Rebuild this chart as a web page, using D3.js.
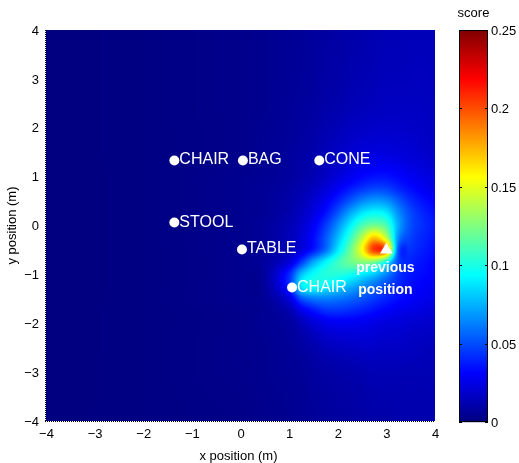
<!DOCTYPE html>
<html>
<head>
<meta charset="utf-8">
<script src="https://cdn.jsdelivr.net/npm/d3@7"></script>
<style>
  html, body { margin: 0; padding: 0; background: #fff; }
  #wrap { position: relative; width: 519px; height: 463px; }
  #heat { position: absolute; left: 46px; top: 30px; }
  svg { position: absolute; left: 0; top: 0; display: block; }
  text { font-family: "Liberation Sans", Arial, sans-serif; }
</style>
</head>
<body>
<div id="wrap">
<canvas id="heat" width="389" height="391"></canvas>
<svg id="chart" width="519" height="463"></svg>
</div>
<script>
// ---------------- data ----------------
const xGrid = [-4, -2, 0, 0.5, 1, 1.25, 1.5, 1.75, 2, 2.25, 2.5, 2.75, 3, 3.25, 3.5, 3.75, 4];
const yGrid = [4, 2.5, 1.5, 1, 0.75, 0.5, 0.25, 0, -0.25, -0.5, -0.75, -1, -1.25, -1.5, -1.75, -2, -2.5, -3, -4];
// score values: one row per yGrid entry (top to bottom), one column per xGrid entry
const scores = [
  [0.000, 0.001, 0.003, 0.004, 0.005, 0.006, 0.007, 0.008, 0.009, 0.010, 0.011, 0.012, 0.013, 0.013, 0.014, 0.014, 0.014],
  [0.000, 0.001, 0.003, 0.004, 0.006, 0.007, 0.008, 0.010, 0.011, 0.013, 0.014, 0.015, 0.016, 0.016, 0.016, 0.016, 0.015],
  [0.000, 0.001, 0.003, 0.005, 0.007, 0.009, 0.011, 0.014, 0.017, 0.020, 0.022, 0.023, 0.023, 0.022, 0.021, 0.019, 0.017],
  [0.000, 0.001, 0.004, 0.005, 0.008, 0.010, 0.013, 0.017, 0.022, 0.027, 0.032, 0.035, 0.035, 0.032, 0.028, 0.025, 0.022],
  [0.000, 0.001, 0.004, 0.006, 0.009, 0.012, 0.016, 0.022, 0.029, 0.037, 0.044, 0.048, 0.047, 0.040, 0.034, 0.029, 0.025],
  [0.000, 0.001, 0.004, 0.006, 0.010, 0.014, 0.020, 0.028, 0.039, 0.052, 0.064, 0.070, 0.067, 0.054, 0.042, 0.035, 0.030],
  [0.000, 0.001, 0.004, 0.006, 0.011, 0.016, 0.024, 0.035, 0.052, 0.072, 0.088, 0.095, 0.090, 0.066, 0.049, 0.040, 0.034],
  [0.000, 0.001, 0.004, 0.007, 0.013, 0.019, 0.029, 0.045, 0.066, 0.090, 0.112, 0.122, 0.112, 0.072, 0.050, 0.042, 0.036],
  [0.000, 0.001, 0.004, 0.007, 0.014, 0.021, 0.033, 0.052, 0.077, 0.105, 0.138, 0.170, 0.140, 0.065, 0.047, 0.040, 0.035],
  [0.000, 0.001, 0.004, 0.007, 0.015, 0.023, 0.037, 0.058, 0.088, 0.118, 0.155, 0.205, 0.190, 0.052, 0.043, 0.038, 0.033],
  [0.000, 0.001, 0.004, 0.008, 0.022, 0.045, 0.072, 0.092, 0.108, 0.120, 0.126, 0.122, 0.095, 0.048, 0.039, 0.035, 0.031],
  [0.000, 0.001, 0.004, 0.008, 0.040, 0.078, 0.095, 0.102, 0.102, 0.098, 0.090, 0.080, 0.064, 0.044, 0.036, 0.033, 0.029],
  [0.000, 0.001, 0.004, 0.007, 0.040, 0.088, 0.095, 0.090, 0.084, 0.075, 0.066, 0.057, 0.047, 0.039, 0.033, 0.030, 0.027],
  [0.000, 0.001, 0.004, 0.006, 0.022, 0.050, 0.060, 0.062, 0.060, 0.056, 0.051, 0.045, 0.039, 0.034, 0.030, 0.027, 0.025],
  [0.000, 0.001, 0.003, 0.005, 0.012, 0.025, 0.035, 0.042, 0.043, 0.041, 0.038, 0.034, 0.030, 0.027, 0.025, 0.023, 0.021],
  [0.000, 0.001, 0.003, 0.005, 0.008, 0.014, 0.021, 0.026, 0.028, 0.028, 0.027, 0.025, 0.023, 0.022, 0.020, 0.019, 0.018],
  [0.000, 0.001, 0.003, 0.004, 0.006, 0.008, 0.011, 0.014, 0.016, 0.017, 0.018, 0.018, 0.017, 0.017, 0.016, 0.015, 0.014],
  [0.000, 0.001, 0.003, 0.004, 0.005, 0.006, 0.008, 0.009, 0.010, 0.011, 0.012, 0.013, 0.013, 0.013, 0.013, 0.013, 0.013],
  [0.000, 0.001, 0.002, 0.003, 0.004, 0.005, 0.006, 0.007, 0.008, 0.008, 0.009, 0.010, 0.010, 0.011, 0.011, 0.011, 0.011]
];
const objectNames = ["CHAIR", "BAG", "CONE", "STOOL", "TABLE", "CHAIR"];
const objectX = [-1.36, 0.05, 1.62, -1.36, 0.03, 1.06];
const objectY = [1.33, 1.33, 1.33, 0.06, -0.49, -1.27];
const previousX = [3.0];
const previousY = [-0.5];
const previousLabel = ["previous", "position"];
const xTicks = [-4, -3, -2, -1, 0, 1, 2, 3, 4];
const yTicks = [-4, -3, -2, -1, 0, 1, 2, 3, 4];
const colorTicks = [0, 0.05, 0.1, 0.15, 0.2, 0.25];
const colorDomain = [0, 0.25];
const xLabel = "x position (m)";
const yLabel = "y position (m)";
const colorLabel = "score";

// ---------------- layout ----------------
const plot = { left: 46, top: 30, width: 389, height: 391 };
const cbar = { left: 459, top: 30, width: 29, height: 392 };

const svg = d3.select("#chart");
const x = d3.scaleLinear().domain([-4, 4]).range([plot.left, plot.left + plot.width]);
const y = d3.scaleLinear().domain([-4, 4]).range([plot.top + plot.height, plot.top]);

function jet(t) {
  t = Math.max(0, Math.min(1, t));
  const c = v => Math.round(255 * Math.max(0, Math.min(1, v)));
  return d3.rgb(c(1.5 - Math.abs(4 * t - 3)), c(1.5 - Math.abs(4 * t - 2)), c(1.5 - Math.abs(4 * t - 1)));
}
const color = d3.scaleSequential(jet).domain(colorDomain);

// smooth (cubic Hermite) rendering of the grid
function slopes(xs, vs) {
  const n = xs.length;
  return vs.map((v, k) => {
    if (k === 0) return (vs[1] - vs[0]) / (xs[1] - xs[0]);
    if (k === n - 1) return (vs[n - 1] - vs[n - 2]) / (xs[n - 1] - xs[n - 2]);
    return (vs[k + 1] - vs[k - 1]) / (xs[k + 1] - xs[k - 1]);
  });
}
function hermite(xs, vs, ms, t) {
  let i = d3.bisectRight(xs, t) - 1;
  i = Math.max(0, Math.min(xs.length - 2, i));
  const h = xs[i + 1] - xs[i];
  const s = Math.max(0, Math.min(1, (t - xs[i]) / h));
  const s2 = s * s, s3 = s2 * s;
  return (2 * s3 - 3 * s2 + 1) * vs[i] + (s3 - 2 * s2 + s) * h * ms[i] +
         (-2 * s3 + 3 * s2) * vs[i + 1] + (s3 - s2) * h * ms[i + 1];
}
const yAsc = yGrid.slice().reverse();
const rowsAsc = scores.slice().reverse();
const rowSlopes = rowsAsc.map(r => slopes(xGrid, r));

// ---------------- heatmap ----------------
const canvas = document.getElementById("heat");
const ctx = canvas.getContext("2d");
const img = ctx.createImageData(plot.width, plot.height);
for (let k = 0; k < plot.width; k++) {
  const xv = x.invert(plot.left + k + 0.5);
  const colVals = rowsAsc.map((r, j) => hermite(xGrid, r, rowSlopes[j], xv));
  const colSl = slopes(yAsc, colVals);
  for (let r = 0; r < plot.height; r++) {
    const yv = y.invert(plot.top + r + 0.5);
    const v = Math.max(0, hermite(yAsc, colVals, colSl, yv));
    const col = color(v);
    const o = 4 * (r * plot.width + k);
    img.data[o] = col.r; img.data[o + 1] = col.g; img.data[o + 2] = col.b; img.data[o + 3] = 255;
  }
}
ctx.putImageData(img, 0, 0);

// axes edges (dotted, like the reference)
svg.append("line").attr("x1", plot.left - 0.5).attr("x2", plot.left - 0.5)
  .attr("y1", plot.top).attr("y2", plot.top + plot.height + 1)
  .attr("stroke", "#000").attr("stroke-width", 1).attr("stroke-dasharray", "1,1");
svg.append("line").attr("x1", plot.left - 1).attr("x2", plot.left + plot.width)
  .attr("y1", plot.top + plot.height + 0.5).attr("y2", plot.top + plot.height + 0.5)
  .attr("stroke", "#000").attr("stroke-width", 1).attr("stroke-dasharray", "1,1");

// tick labels
const tickFont = 13;
svg.append("g").attr("transform", `translate(0,${plot.top + plot.height + 5})`)
  .call(d3.axisBottom(x).tickValues(xTicks).tickSize(0).tickFormat(d3.format("d")))
  .call(g => g.select(".domain").remove())
  .call(g => g.selectAll("text").attr("font-size", tickFont).attr("fill", "#000")
    .attr("font-family", "Liberation Sans, Arial, sans-serif"));
svg.append("g").attr("transform", `translate(${plot.left - 4},0)`)
  .call(d3.axisLeft(y).tickValues(yTicks).tickSize(0).tickFormat(d3.format("d")))
  .call(g => g.select(".domain").remove())
  .call(g => g.selectAll("text").attr("font-size", tickFont).attr("fill", "#000")
    .attr("font-family", "Liberation Sans, Arial, sans-serif"));

svg.append("text").attr("x", plot.left + plot.width / 2 - 2).attr("y", 460)
  .attr("text-anchor", "middle").attr("font-size", 13).text(xLabel);
svg.append("text").attr("transform", `translate(16,${plot.top + plot.height / 2}) rotate(-90)`)
  .attr("text-anchor", "middle").attr("font-size", 13).text(yLabel);

// ---------------- objects ----------------
const objs = objectNames.map((n, i) => ({ n, x: objectX[i], y: objectY[i] }));
const og = svg.append("g");
og.selectAll("circle").data(objs).join("circle")
  .attr("cx", d => x(d.x)).attr("cy", d => y(d.y)).attr("r", 5).attr("fill", "#fff");
og.selectAll("text").data(objs).join("text")
  .attr("x", d => x(d.x) + 5).attr("y", d => y(d.y) + 4)
  .attr("font-size", 16).attr("fill", "#fff").text(d => d.n);

const prev = previousX.map((v, i) => ({ x: v, y: previousY[i] }));
svg.append("g").selectAll("path").data(prev).join("path")
  .attr("transform", d => `translate(${x(d.x)},${y(d.y)})`)
  .attr("d", d3.symbol().type(d3.symbolTriangle).size(70)())
  .attr("fill", "#fff");
svg.append("g").selectAll("text").data(previousLabel).join("text")
  .attr("x", x(previousX[0]) - 1)
  .attr("y", (d, i) => y(previousY[0]) + 22 + i * 22)
  .attr("text-anchor", "middle")
  .attr("font-family", "DejaVu Sans, sans-serif").attr("font-weight", "bold")
  .attr("font-size", 14).attr("fill", "#fff").text(d => d);

// ---------------- colorbar ----------------
const cy = d3.scaleLinear().domain(colorDomain).range([cbar.top + cbar.height, cbar.top]);
const steps = d3.range(cbar.height);
svg.append("g").selectAll("rect").data(steps).join("rect")
  .attr("x", cbar.left).attr("width", cbar.width)
  .attr("y", d => cbar.top + d).attr("height", 1.2)
  .attr("fill", d => color(cy.invert(cbar.top + d + 0.5)));
svg.append("rect").attr("x", cbar.left + 0.5).attr("y", cbar.top + 0.5)
  .attr("width", cbar.width - 1).attr("height", cbar.height - 1)
  .attr("fill", "none").attr("stroke", "#000");
const ct = svg.append("g");
ct.selectAll("line.l").data(colorTicks).join("line").attr("class", "l")
  .attr("x1", cbar.left).attr("x2", cbar.left + 3)
  .attr("y1", d => Math.round(cy(d)) + 0.5).attr("y2", d => Math.round(cy(d)) + 0.5).attr("stroke", "#000");
ct.selectAll("line.r").data(colorTicks).join("line").attr("class", "r")
  .attr("x1", cbar.left + cbar.width - 3).attr("x2", cbar.left + cbar.width)
  .attr("y1", d => Math.round(cy(d)) + 0.5).attr("y2", d => Math.round(cy(d)) + 0.5).attr("stroke", "#000");
ct.selectAll("text").data(colorTicks).join("text")
  .attr("x", cbar.left + cbar.width + 3).attr("y", d => cy(d) + 5)
  .attr("font-size", tickFont).text(d => String(d));
svg.append("text").attr("x", cbar.left + cbar.width / 2).attr("y", 17)
  .attr("text-anchor", "middle").attr("font-size", 13).text(colorLabel);
</script>
</body>
</html>
